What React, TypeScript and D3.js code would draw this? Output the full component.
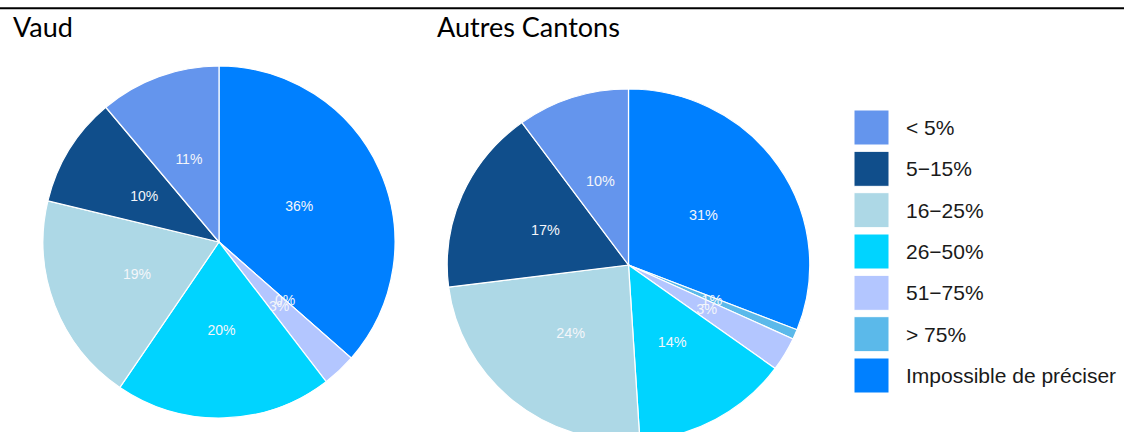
import React from 'react';
import * as d3 from 'd3';

// legend order (top to bottom)
const categories = ['< 5%', '5\u221215%', '16\u221225%', '26\u221250%', '51\u221275%', '> 75%', 'Impossible de préciser'];
const colors = ['#6495ED', '#104E8B', '#ADD8E6', '#00D4FF', '#B3C6FF', '#5BB9EA', '#0080FF'];

// shares per category, same order as categories
const vaudValues = [11.1, 10.1, 19.2, 19.9, 3.1, 0, 36.4];
const autresValues = [10.0, 17.0, 24.0, 14.0, 3.1, 0.9, 31.0];

const titles = ['Vaud', 'Autres Cantons'];

const W = 1124;
const H = 432;
const R = 176;

// slices run clockwise from 12 o'clock, in reverse legend order
const pieOrder = [6, 5, 4, 3, 2, 1, 0];

interface PieProps {
  values: number[];
  cx: number;
  cy: number;
  sx?: number;
}

const Pie: React.FC<PieProps> = ({ values, cx, cy, sx = 1 }) => {
  const total = d3.sum(values);
  const pie = d3.pie<number>().sort(null).value(i => values[i]);
  const arcs = pie(pieOrder);
  const arc = d3.arc<d3.PieArcDatum<number>>().innerRadius(0).outerRadius(R);

  return (
    <g transform={`translate(${cx},${cy}) scale(${sx},1)`}>
      {arcs.map(a => (
        <path key={a.data} d={arc(a) || ''} fill={colors[a.data]} stroke="#ffffff" strokeWidth={1.2} />
      ))}
      {arcs.map(a => {
        const [x, y] = arc.centroid(a);
        return (
          <text
            key={'t' + a.data}
            x={x}
            y={y}
            dy="0.35em"
            textAnchor="middle"
            fill="#f4f6fa"
            fontFamily="'Liberation Sans', Arial, sans-serif"
            fontSize={14}
          >
            {d3.format('.0f')((values[a.data] / total) * 100)}%
          </text>
        );
      })}
    </g>
  );
};

const App: React.FC = () => {
  const legendY = d3.scaleLinear().domain([0, categories.length - 1]).range([110, 358]);

  return (
    <div style={{ position: 'fixed', left: 0, top: 0, width: W, height: H, background: '#fff' }}>
      <svg width={W} height={H} style={{ display: 'block' }}>
        <line x1={0} x2={W} y1={8.3} y2={8.3} stroke="#000" strokeWidth={2} />
        <text x={13} y={37} fontFamily="Lato, 'Open Sans', sans-serif" fontSize={27} fill="#000">{titles[0]}</text>
        <text x={437} y={37} fontFamily="Lato, 'Open Sans', sans-serif" fontSize={27} fill="#000">{titles[1]}</text>

        <Pie values={vaudValues} cx={219} cy={242} />
        <Pie values={autresValues} cx={628.5} cy={265} sx={1.03} />

        {categories.map((c, i) => (
          <g key={c} transform={`translate(854,${legendY(i)})`}>
            <rect width={35} height={35} fill={colors[i]} stroke="#ffffff" strokeWidth={1} />
            <text
              x={52}
              y={17.5}
              dy="0.35em"
              fontFamily="'Liberation Sans', Arial, sans-serif"
              fontSize={21}
              fill="#1a1a1a"
            >
              {c}
            </text>
          </g>
        ))}
      </svg>
    </div>
  );
};

export default App;
